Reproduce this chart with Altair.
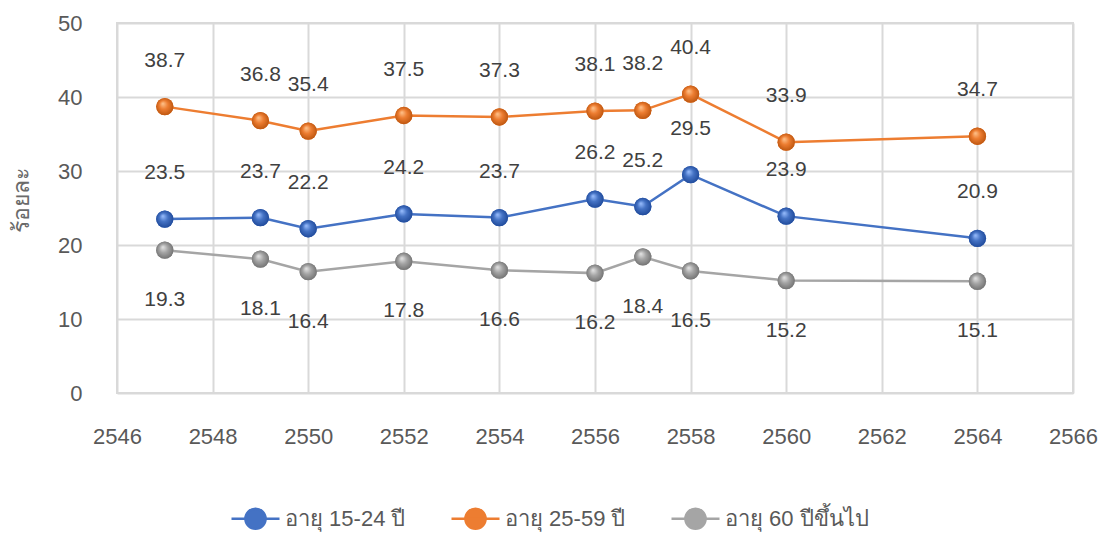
import altair as alt
import pandas as pd

# ---- data ----
years = [2547, 2549, 2550, 2552, 2554, 2556, 2557, 2558, 2560, 2564]
age_15_24 = [23.5, 23.7, 22.2, 24.2, 23.7, 26.2, 25.2, 29.5, 23.9, 20.9]
age_25_59 = [38.7, 36.8, 35.4, 37.5, 37.3, 38.1, 38.2, 40.4, 33.9, 34.7]
age_60_plus = [19.3, 18.1, 16.4, 17.8, 16.6, 16.2, 18.4, 16.5, 15.2, 15.1]

series_names = ["อายุ 15-24 ปี", "อายุ 25-59 ปี", "อายุ 60 ปีขึ้นไป"]
series_colors = ["#4472C4", "#ED7D31", "#A5A5A5"]
sphere_light = ["#9cc0ff", "#ffc58f", "#e6e6e6"]
sphere_dark = ["#1c4696", "#b8520c", "#6e6e6e"]
x_ticks = [2546, 2548, 2550, 2552, 2554, 2556, 2558, 2560, 2562, 2564, 2566]
y_ticks = [0, 10, 20, 30, 40, 50]
y_title = "ร้อยละ"

rows = []
for name, vals in zip(series_names, [age_15_24, age_25_59, age_60_plus]):
    for yr, v in zip(years, vals):
        rows.append({"year": yr, "value": v, "series": name})
df = pd.DataFrame(rows)

FONT = "Liberation Sans"
TXT = "#595959"
GRID = "#d9d9d9"

x_enc = alt.X(
    "year:Q",
    scale=alt.Scale(domain=[2546, 2566], nice=False, zero=False),
    axis=alt.Axis(values=x_ticks, format="d", title=None, grid=True, ticks=False,
                  domain=False, labelPadding=33, labelFontSize=22, labelColor=TXT,
                  labelFont=FONT, labelFlush=False, labelOverlap=False,
                  gridColor=GRID, gridWidth=2),
)
y_enc = alt.Y(
    "value:Q",
    scale=alt.Scale(domain=[0, 50], nice=False),
    axis=alt.Axis(values=y_ticks, title=y_title, grid=True, ticks=False, domain=False,
                  labelPadding=35, labelFontSize=22, labelColor=TXT, labelFont=FONT,
                  labelFlush=False, labelOverlap=False,
                  gridColor=GRID, gridWidth=2, titleFontSize=23, titleColor="#6a6a6a",
                  titleFont=FONT, titleFontWeight="normal", titleAngle=270,
                  titleX=-96, titleY=177, titleAlign="center", titleBaseline="middle"),
)

sym_path = "M-1,0L1,0M-0.42,0A0.42,0.42,0,1,0,0.42,0A0.42,0.42,0,1,0,-0.42,0Z"
legend = alt.Legend(
    title=None, orient="none", legendX=113, legendY=470, direction="horizontal",
    symbolType=sym_path, symbolSize=2304, symbolStrokeWidth=2.5,
    labelFontSize=22, labelFont=FONT, labelColor=TXT, columnPadding=40, labelOffset=4,
)
scale_c = alt.Scale(domain=series_names, range=series_colors)

base = alt.Chart(df)

lines = base.mark_line(strokeWidth=2.5).encode(
    x=x_enc, y=y_enc,
    color=alt.Color("series:N", scale=scale_c, legend=legend),
)
base_pts = base.mark_point(filled=True, size=300, opacity=1).encode(
    x=x_enc, y=y_enc,
    fill=alt.Fill("series:N", scale=scale_c, legend=legend),
)

spheres = []
for name, light, mid, dark in zip(series_names, sphere_light, series_colors, sphere_dark):
    grad = alt.Gradient(
        gradient="radial", x1=0.38, y1=0.32, r1=0.0, x2=0.5, y2=0.5, r2=0.55,
        stops=[alt.GradientStop(color=light, offset=0),
               alt.GradientStop(color=mid, offset=0.45),
               alt.GradientStop(color=dark, offset=1)],
    )
    spheres.append(
        base.transform_filter(alt.FieldEqualPredicate(field="series", equal=name))
        .mark_point(filled=True, size=300, fill=grad, opacity=1)
        .encode(x=x_enc, y=y_enc)
    )

labels_above = base.transform_filter(
    alt.FieldOneOfPredicate(field="series", oneOf=series_names[:2])
).mark_text(dy=-46, fontSize=21, font=FONT, color="#404040", baseline="middle").encode(
    x=x_enc, y=y_enc, text=alt.Text("value:Q", format=".1f")
)
labels_below = base.transform_filter(
    alt.FieldEqualPredicate(field="series", equal=series_names[2])
).mark_text(dy=50, fontSize=21, font=FONT, color="#404040", baseline="middle").encode(
    x=x_enc, y=y_enc, text=alt.Text("value:Q", format=".1f")
)

chart = alt.layer(lines, base_pts, *spheres, labels_above, labels_below).properties(
    width=956, height=370,
    padding={"left": 117, "top": 23, "right": 29, "bottom": 140},
    autosize=alt.AutoSizeParams(type="none"),
    background="white",
).configure_view(stroke=GRID, strokeWidth=2)

chart.save("out.html", embed_options={"renderer": "svg", "actions": False})
